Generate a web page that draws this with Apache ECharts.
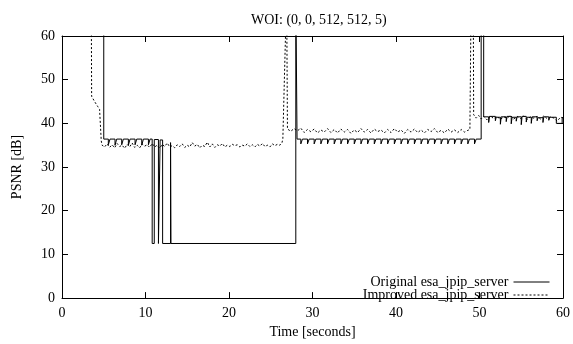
<!DOCTYPE html>
<html>
<head>
<meta charset="utf-8">
<script src="https://cdn.jsdelivr.net/npm/echarts@6/dist/echarts.min.js"></script>
<style>
  html, body { margin: 0; padding: 0; background: #fff; }
  #chart { width: 573px; height: 344px; }
</style>
</head>
<body>
<div id="chart"></div>
<script>
const chartTitle = 'WOI: (0, 0, 512, 512, 5)';
const seriesNames = ['Original esa_jpip_server', 'Improved esa_jpip_server'];
const xTicks = [0, 10, 20, 30, 40, 50, 60];
const yTicks = [0, 10, 20, 30, 40, 50, 60];

// original server: [time s, PSNR dB], drawn as a step line (value holds until next time)
const originalStart = [[0, 70], [5.0, 36.4]];
const originalTeethA = [
  [5.55, 35.1], [5.75, 36.4], [6.35, 35.0], [6.55, 36.4], [7.15, 35.1], [7.35, 36.4],
  [7.95, 35.0], [8.15, 36.4], [8.75, 35.1], [8.95, 36.4], [9.55, 35.0], [9.75, 36.4],
  [10.35, 35.1], [10.55, 36.4]
];
const originalDrops = [
  [10.8, 12.5], [11.05, 36.3], [11.55, 12.5], [11.75, 36.2], [12.05, 12.5],
  [13.0, 35.6], [13.05, 12.5], [28.0, 70], [28.15, 36.4]
];
const originalTeethB = [
  [28.6, 35.3], [28.8, 36.4], [29.4, 35.3], [29.6, 36.4], [30.2, 35.3], [30.4, 36.4],
  [31.0, 35.3], [31.2, 36.4], [31.8, 35.3], [32.0, 36.4], [32.6, 35.3], [32.8, 36.4],
  [33.4, 35.3], [33.6, 36.4], [34.2, 35.3], [34.4, 36.4], [35.0, 35.3], [35.2, 36.4],
  [35.8, 35.3], [36.0, 36.4], [36.6, 35.3], [36.8, 36.4], [37.4, 35.3], [37.6, 36.4],
  [38.2, 35.3], [38.4, 36.4], [39.0, 35.3], [39.2, 36.4], [39.8, 35.3], [40.0, 36.4],
  [40.6, 35.3], [40.8, 36.4], [41.4, 35.3], [41.6, 36.4], [42.2, 35.3], [42.4, 36.4],
  [43.0, 35.3], [43.2, 36.4], [43.8, 35.3], [44.0, 36.4], [44.6, 35.3], [44.8, 36.4],
  [45.4, 35.3], [45.6, 36.4], [46.2, 35.3], [46.4, 36.4], [47.0, 35.3], [47.2, 36.4],
  [47.8, 35.3], [48.0, 36.4], [48.6, 35.3], [48.8, 36.4], [49.4, 35.3], [49.6, 36.4]
];
const originalEnd = [
  [50.2, 70], [50.5, 41.5],
  [51.1, 40.2], [51.2, 41.6], [51.9, 40.6], [52.0, 41.4], [52.5, 39.8], [52.6, 41.5],
  [53.2, 40.4], [53.3, 41.6], [53.8, 39.9], [53.9, 41.4], [54.4, 40.5], [54.5, 41.5],
  [55.0, 39.7], [55.1, 41.6], [55.6, 40.3], [55.7, 41.4], [56.2, 40.0], [56.3, 41.5],
  [56.9, 40.6], [57.0, 41.3], [57.6, 40.2], [57.7, 41.5], [58.3, 40.7], [58.4, 41.4],
  [59.2, 40.0], [59.9, 41.3], [60, 41.3]
];

// improved server: [time s, PSNR dB]
const improvedStart = [
  [0, 70], [3.5, 70], [3.55, 46.2], [3.9, 45.0], [4.3, 43.8], [4.5, 43.2], [4.7, 36.0], [4.8, 35.0]
];
const improvedLevelA = [
  [5.1, 34.6], [5.4, 35.3], [5.7, 34.5], [6.0, 35.1], [6.3, 34.4], [6.6, 35.4], [6.9, 34.7],
  [7.2, 35.0], [7.5, 34.3], [7.8, 35.2], [8.1, 34.6], [8.4, 35.5], [8.7, 34.5], [9.0, 35.0],
  [9.3, 34.4], [9.6, 35.3], [9.9, 34.8], [10.2, 35.1], [10.5, 34.5], [10.8, 35.4], [11.1, 34.6],
  [11.4, 35.0], [11.7, 34.3], [12.0, 35.2], [12.3, 34.7], [12.6, 35.5], [12.9, 34.6], [13.2, 34.9],
  [13.5, 34.4], [13.8, 35.1], [14.1, 34.7], [14.4, 35.3], [14.7, 34.5], [15.0, 35.0], [15.3, 34.6],
  [15.6, 35.6], [15.9, 34.8], [16.2, 35.2], [16.5, 34.4], [16.8, 35.0], [17.1, 34.7], [17.4, 35.7],
  [17.7, 34.6], [18.0, 35.3], [18.3, 34.5], [18.6, 35.1], [18.9, 34.8], [19.2, 35.4], [19.5, 34.6],
  [19.8, 35.0], [20.1, 34.7], [20.4, 35.2], [20.7, 34.9], [21.0, 35.1], [21.3, 34.6], [21.6, 35.0],
  [21.9, 34.8], [22.2, 35.3], [22.5, 34.7], [22.8, 35.1], [23.1, 34.6], [23.4, 35.2], [23.7, 34.8],
  [24.0, 35.4], [24.3, 34.7], [24.6, 35.0], [24.9, 34.6], [25.2, 35.3], [25.5, 34.9], [25.8, 35.2],
  [26.1, 35.0], [26.35, 35.6]
];
const improvedJump1 = [[26.45, 36.5], [26.9, 70], [26.95, 70], [27.0, 38.7]];
const improvedLevelB = [
  [27.4, 38.2], [27.8, 38.8], [28.2, 38.3], [28.6, 38.9], [29.0, 37.9], [29.4, 38.6], [29.8, 38.1],
  [30.2, 38.7], [30.6, 37.8], [31.0, 38.5], [31.4, 38.0], [31.8, 38.8], [32.2, 37.9], [32.6, 38.6],
  [33.0, 37.8], [33.4, 38.7], [33.8, 38.0], [34.2, 38.6], [34.6, 37.7], [35.0, 38.5], [35.4, 37.9],
  [35.8, 38.8], [36.2, 38.0], [36.6, 38.6], [37.0, 37.8], [37.4, 38.7], [37.8, 38.1], [38.2, 38.5],
  [38.6, 37.8], [39.0, 38.6], [39.4, 37.9], [39.8, 38.8], [40.2, 38.0], [40.6, 38.5], [41.0, 37.7],
  [41.4, 38.6], [41.8, 38.0], [42.2, 38.7], [42.6, 37.9], [43.0, 38.5], [43.4, 37.8], [43.8, 38.6],
  [44.2, 38.1], [44.6, 38.8], [45.0, 37.9], [45.4, 38.4], [45.8, 37.8], [46.2, 38.7], [46.6, 38.0],
  [47.0, 38.5], [47.4, 37.9], [47.8, 38.6], [48.2, 38.0], [48.6, 38.4], [48.85, 38.6]
];
const improvedJump2 = [[49.0, 70], [49.25, 70], [49.3, 42.0]];
const improvedLevelC = [
  [49.6, 41.2], [49.9, 41.8], [50.2, 41.0], [50.5, 41.6], [50.9, 40.8], [51.3, 41.7], [51.7, 41.1],
  [52.1, 41.6], [52.5, 40.9], [52.9, 41.5], [53.3, 41.2], [53.7, 41.8], [54.1, 41.0], [54.5, 41.6],
  [54.9, 41.1], [55.3, 41.7], [55.7, 40.9], [56.1, 41.5], [56.5, 41.2], [56.9, 41.6], [57.3, 41.0],
  [57.7, 41.7], [58.1, 41.1], [58.5, 41.5], [58.9, 41.2], [59.3, 40.5], [59.7, 41.4], [60, 41.3]
];

const originalData = [].concat(originalStart, originalTeethA, originalDrops, originalTeethB, originalEnd);
const improvedData = [].concat(improvedStart, improvedLevelA, improvedJump1, improvedLevelB, improvedJump2, improvedLevelC);

const FONT = 'Liberation Serif';
const black = '#000';

const chart = echarts.init(document.getElementById('chart'), null, { renderer: 'canvas' });

function xAxisCfg(pos, showLabel) {
  return {
    type: 'value', position: pos, min: xTicks[0], max: xTicks[xTicks.length - 1], interval: 10,
    axisLine: { show: true, onZero: false, lineStyle: { color: black, width: 1 } },
    axisTick: { show: true, inside: true, length: 6, lineStyle: { color: black } },
    axisLabel: { show: showLabel, color: black, fontFamily: FONT, fontSize: 14, margin: 8 },
    splitLine: { show: false }
  };
}
function yAxisCfg(pos, showLabel) {
  return {
    type: 'value', position: pos, min: yTicks[0], max: yTicks[yTicks.length - 1], interval: 10,
    axisLine: { show: true, onZero: false, lineStyle: { color: black, width: 1 } },
    axisTick: { show: true, inside: true, length: 6, lineStyle: { color: black } },
    axisLabel: { show: showLabel, color: black, fontFamily: FONT, fontSize: 14, margin: 7 },
    splitLine: { show: false }
  };
}

const bottomX = xAxisCfg('bottom', true);
bottomX.name = 'Time [seconds]';
bottomX.nameLocation = 'middle';
bottomX.nameGap = 24;
bottomX.nameTextStyle = { color: black, fontFamily: FONT, fontSize: 14 };
const leftY = yAxisCfg('left', true);
leftY.name = 'PSNR [dB]';
leftY.nameLocation = 'middle';
leftY.nameGap = 38;
leftY.nameRotate = 90;
leftY.nameTextStyle = { color: black, fontFamily: FONT, fontSize: 14 };

// legend: text on the left, line sample on the right, no marker dot
function legendCfg(name, top) {
  return {
    data: [name], right: 23, top: top, align: 'right', padding: 0,
    itemWidth: 36, itemHeight: 11, itemGap: 0,
    itemStyle: { color: 'rgba(0,0,0,0)', borderColor: 'rgba(0,0,0,0)', borderWidth: 0, opacity: 0 },
    lineStyle: { width: 1 },
    textStyle: { color: black, fontFamily: FONT, fontSize: 14 }
  };
}

chart.setOption({
  animation: false,
  backgroundColor: '#fff',
  title: {
    text: chartTitle, left: 246, top: 8,
    textStyle: { color: black, fontFamily: FONT, fontSize: 14, fontWeight: 'normal' }
  },
  grid: { left: 62, right: 7, top: 36, bottom: 38 },
  legend: [legendCfg(seriesNames[0], 275), legendCfg(seriesNames[1], 288)],
  xAxis: [bottomX, xAxisCfg('top', false)],
  yAxis: [leftY, yAxisCfg('right', false)],
  series: [
    {
      name: seriesNames[0], type: 'line', xAxisIndex: 0, yAxisIndex: 0,
      data: originalData, step: 'end', symbol: 'none', clip: true,
      lineStyle: { color: black, width: 1 }, itemStyle: { color: black }
    },
    {
      name: seriesNames[1], type: 'line', xAxisIndex: 0, yAxisIndex: 0,
      data: improvedData, symbol: 'none', clip: true,
      lineStyle: { color: black, width: 1, type: [2, 2] }, itemStyle: { color: black }
    }
  ]
});
</script>
</body>
</html>
